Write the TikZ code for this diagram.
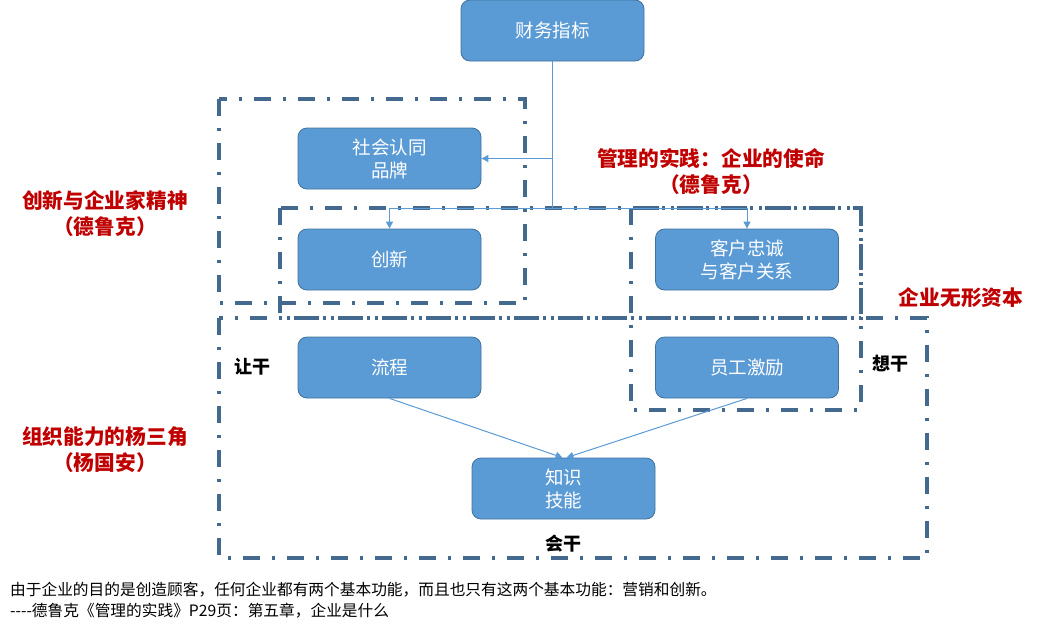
\documentclass[tikz,border=0pt]{standalone}
\usepackage{fontspec}
\setmainfont{Noto Sans CJK SC}
\usetikzlibrary{arrows.meta}
\definecolor{boxfill}{HTML}{5B9BD5}
\definecolor{boxline}{HTML}{41719C}
\definecolor{frameblue}{RGB}{68,105,143}
\definecolor{labred}{HTML}{C00000}
\begin{document}
\begin{tikzpicture}[x=1pt,y=-1pt,
  box/.style={draw=boxline,line width=0.8pt,fill=boxfill,rounded corners=9pt,
    minimum width=183pt,minimum height=61pt,inner sep=0pt,align=center,
    text=white,font=\fontsize{18.5}{23}\selectfont},
  frame/.style={draw=frameblue,line width=3.8pt,
    dash pattern=on 17pt off 12pt on 3pt off 12pt},
  conn/.style={draw=boxfill,line width=1pt},
  tip/.style={-{Triangle[length=7pt,width=7pt]}},
  redlab/.style={text=labred,font=\fontsize{20.7}{26}\selectfont\bfseries,align=center,inner sep=0pt},
  blklab/.style={text=black,font=\fontsize{18}{20}\selectfont\bfseries,inner sep=0pt},
  foot/.style={text=black,font=\fontsize{15.7}{21}\selectfont,align=left,inner sep=0pt,anchor=north west}]
\useasboundingbox (0,0) rectangle (1037,633);
% frames
\draw[frame] (219,99) rectangle (525,303);
\draw[frame] (280,208) rectangle (861,318);
\draw[frame] (631,208) rectangle (861,410);
\draw[frame] (219,318) rectangle (927,558);
% boxes
\node[box] (cw) at (552.5,30.5) {财务指标};
\node[box] (sh) at (389.5,158.5) {社会认同\\品牌};
\node[box] (cx) at (389.5,259.5) {创新};
\node[box] (kh) at (747,259.5) {客户忠诚\\与客户关系};
\node[box] (lc) at (389.5,367.5) {流程};
\node[box] (yg) at (747,367.5) {员工激励};
\node[box] (zs) at (563.5,488.5) {知识\\技能};
% connectors
\coordinate (bus) at (cw.south |- 0,208);
\draw[conn] (cw.south) -- (bus);
\draw[conn,tip] (cw.south |- sh.east) -- (sh.east);
\draw[conn] (cx.north |- bus) -- (kh.north |- bus);
\draw[conn,tip] (cx.north |- bus) -- (cx.north);
\draw[conn,tip] (kh.north |- bus) -- (kh.north);
\draw[conn,tip] (lc.south) -- ([xshift=-1pt]zs.north);
\draw[conn,tip] (yg.south) -- ([xshift=3pt]zs.north);
% labels
\node[redlab] (l1) at (105,214) {创新与企业家精神\\（德鲁克）};
\node[redlab] (l2) at (711,172) {管理的实践：企业的使命\\（德鲁克）};
\node[redlab] (l3) at (961,298) {企业无形资本};
\node[redlab] (l4) at (105,450) {组织能力的杨三角\\（杨国安）};
\node[blklab] (r1) at (252,367) {让干};
\node[blklab] (r2) at (890,364) {想干};
\node[blklab] (r3) at (563,544) {会干};
\node[foot] (f1) at (10,582) {由于企业的目的是创造顾客，任何企业都有两个基本功能，而且也只有这两个基本功能：营销和创新。\\-{}-{}-{}-德鲁克《管理的实践》P29页：第五章，企业是什么};
\end{tikzpicture}
\end{document}
